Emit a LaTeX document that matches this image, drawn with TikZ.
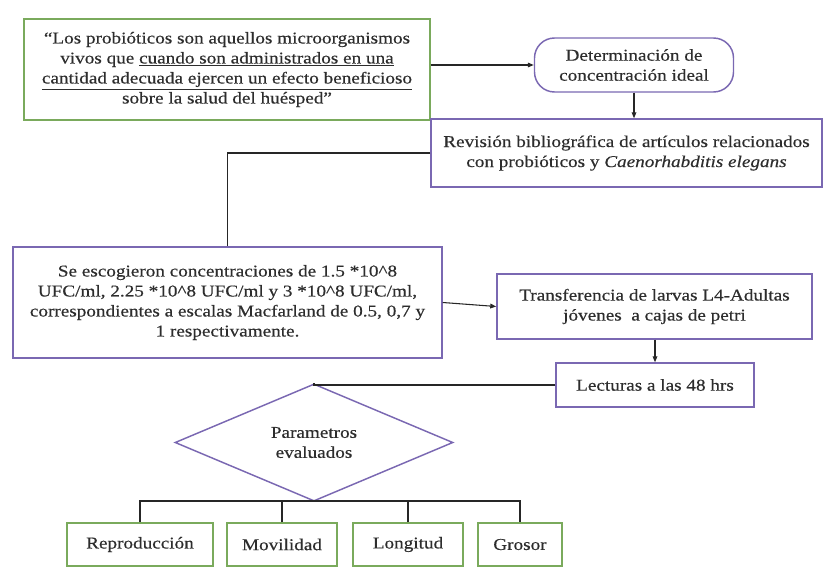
\documentclass[tikz,border=0pt]{standalone}
\usepackage{fontspec}
\setmainfont[FakeStretch=1.16,FakeBold=0.4]{Liberation Serif}
\usetikzlibrary{shapes.geometric,arrows.meta}
\newcommand\pxu{0.75pt}
\definecolor{boxgreen}{RGB}{122,170,92}
\definecolor{boxpurple}{RGB}{122,104,178}
\definecolor{inkgray}{RGB}{45,45,45}
\tikzset{
  base/.style={draw, line width=1.1pt, inner sep=2pt, align=center,
    text=inkgray, font=\fontsize{12.4pt}{15pt}\selectfont},
  greenbox/.style={base, draw=boxgreen},
  purplebox/.style={base, draw=boxpurple},
  link/.style={draw=black!85, line width=0.8pt},
  arrowlink/.style={link, -{Triangle[length=4.5pt,width=3.5pt]}}
}
\begin{document}
\begin{tikzpicture}[x=0.75pt,y=-0.75pt]
\useasboundingbox (0,0) rectangle (823,567);

% boxes
\node[greenbox, minimum width=406*\pxu, minimum height=101*\pxu] (quote) at (227,69.5)
  {``Los probióticos son aquellos microorganismos\\
   vivos que \underline{cuando son administrados en una}\\
   \underline{cantidad adecuada ejercen un efecto beneficioso}\\
   sobre la salud del huésped''};
\node[purplebox, rounded corners=20*\pxu, minimum width=199*\pxu, minimum height=54*\pxu] (det) at (634,65)
  {Determinación de\\ concentración ideal};
\node[purplebox, minimum width=391*\pxu, minimum height=68*\pxu] (rev) at (626.5,153)
  {Revisión bibliográfica de artículos relacionados\\ con probióticos y \textit{Caenorhabditis elegans}};
\node[purplebox, minimum width=429*\pxu, minimum height=111*\pxu] (se) at (227.5,302.5)
  {Se escogieron concentraciones de 1.5 *10\^{}8\\
   UFC/ml, 2.25 *10\^{}8 UFC/ml y 3 *10\^{}8 UFC/ml,\\
   correspondientes a escalas Macfarland de 0.5, 0,7 y\\
   1 respectivamente.};
\node[purplebox, minimum width=315*\pxu, minimum height=65*\pxu] (trans) at (654.5,306.5)
  {Transferencia de larvas L4-Adultas\\ jóvenes\ \ a cajas de petri};
\node[purplebox, minimum width=198*\pxu, minimum height=44*\pxu] (lect) at (655,385)
  {Lecturas a las 48 hrs};
\node[purplebox, diamond, inner sep=0pt, minimum width=278*\pxu, minimum height=73*\pxu] (diam) at (314,442.5)
  {Parametros\\ evaluados};
\node[greenbox, minimum width=146*\pxu, minimum height=43*\pxu] (r1) at (140,544.5) {Reproducción};
\node[greenbox, minimum width=110*\pxu, minimum height=43*\pxu] (r2) at (282,544.5) {Movilidad};
\node[greenbox, minimum width=110*\pxu, minimum height=43*\pxu] (r3) at (408,544.5) {Longitud};
\node[greenbox, minimum width=84*\pxu, minimum height=43*\pxu] (r4) at (520,544.5) {Grosor};
\coordinate (bus) at (314,501);

% connectors
\draw[arrowlink] (det.west -| quote.east) -- (det.west);
\draw[arrowlink] (det.south) -- (det.south |- rev.north);
\draw[link] (rev.west) -| (se.north);
\draw[arrowlink] (se.east) -- (trans.west);
\draw[arrowlink] (trans.south -| lect.north) -- (lect.north);
\draw[link] (lect.west) -| (diam.north);
\draw[link] (diam.south) -- (bus);
\draw[link] (r1.north) |- (bus) -| (r4.north);
\draw[link] (r2.north) -- (r2.north |- bus);
\draw[link] (r3.north) -- (r3.north |- bus);
\end{tikzpicture}
\end{document}
